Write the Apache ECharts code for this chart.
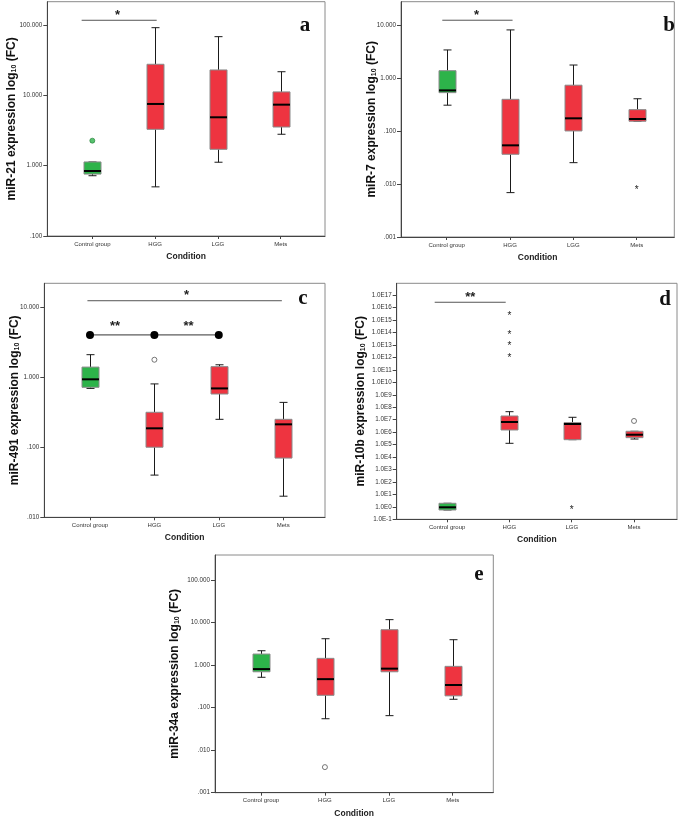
<!DOCTYPE html>
<html><head><meta charset="utf-8">
<script src="https://cdn.jsdelivr.net/npm/echarts@6/dist/echarts.min.js"></script>
<style>html,body{margin:0;padding:0;background:#fff}#c{width:685px;height:817px}</style>
</head><body><div id="c"></div>
<script>
// ---------------- DATA ----------------
const categories = ['Control group', 'HGG', 'LGG', 'Mets'];

// Box statistics per category: [min, Q1, median, Q3, max]
const miR21Boxes = [[0.72, 0.76, 0.84, 1.13, 1.13], [0.50, 3.29, 7.55, 27.7, 91.8], [1.12, 1.71, 4.88, 23.0, 68.4], [2.8, 3.55, 7.38, 11.2, 21.7]];
const miR21Dots = [[0, 2.27]];
const miR21Ticks = [0.1, 1, 10, 100];

const miR7Boxes = [[0.31, 0.535, 0.59, 1.39, 3.43], [0.0069, 0.0366, 0.054, 0.40, 8.2], [0.0254, 0.101, 0.175, 0.74, 1.78], [0.154, 0.154, 0.17, 0.255, 0.41]];
const miR7Stars = [[3, 0.0087]];
const miR7Ticks = [0.001, 0.01, 0.1, 1, 10];

const miR491Boxes = [[0.69, 0.716, 0.93, 1.39, 2.09], [0.040, 0.10, 0.186, 0.315, 0.80], [0.25, 0.574, 0.69, 1.41, 1.5], [0.020, 0.070, 0.212, 0.25, 0.436]];
const miR491Circles = [[1, 1.77]];
const miR491Ticks = [0.01, 0.1, 1, 10];

const miR10bBoxes = [[0.56, 0.56, 0.92, 1.93, 1.93], [1.27e5, 1.49e6, 6.5e6, 1.98e7, 4.4e7], [2.48e5, 2.48e5, 4.5e6, 5.75e6, 1.56e7], [2.8e5, 3.6e5, 6.2e5, 1.17e6, 1.17e6]];
const miR10bStars = [[1, 3.1e15], [1, 9.8e13], [1, 1.15e13], [1, 1.48e12], [2, 0.9]];
const miR10bCircles = [[3, 7.9e6]];
const miR10bTicks = [1e-1, 1e0, 1e1, 1e2, 1e3, 1e4, 1e5, 1e6, 1e7, 1e8, 1e9, 1e10, 1e11, 1e12, 1e13, 1e14, 1e15, 1e16, 1e17];

const miR34aBoxes = [[0.52, 0.70, 0.81, 1.83, 2.19], [0.055, 0.196, 0.47, 1.45, 4.2], [0.065, 0.70, 0.83, 6.84, 11.8], [0.158, 0.19, 0.342, 0.94, 3.98]];
const miR34aCircles = [[1, 0.004]];
const miR34aTicks = [0.001, 0.01, 0.1, 1, 10, 100];

// significance brackets: [[xStart, y], [xEnd, y]] and labels [x, y]
const sigALine = [[-0.17, 117], [1.025, 117]];
const sigALabels = [[0.4, 152]];
const sigALabelText = ['*'];
const sigBLine = [[-0.07, 12.5], [1.04, 12.5]];
const sigBLabels = [[0.47, 17.9]];
const sigBLabelText = ['*'];
const sigCLine = [[-0.04, 12.3], [2.98, 12.3]];
const sigCDotLine = [[0, 4], [1, 4], [2, 4]];
const sigCLabels = [[1.5, 16.2], [0.39, 5.85], [1.53, 5.85]];
const sigCLabelText = ['*', '**', '**'];
const sigDLine = [[-0.2, 2.7e16], [0.94, 2.7e16]];
const sigDLabels = [[0.37, 1.26e17]];
const sigDLabelText = ['**'];

// ---------------- STYLE / LAYOUT ----------------
const BOX_COLORS = ['#2db34a', '#ee3440', '#ee3440', '#ee3440'];
const BOX_W = 17, CAP_W = 8;
const SANS = 'Liberation Sans, Arial, sans-serif';

function fmtSpss(v) {
  const s = v.toFixed(3);
  return v < 1 ? s.replace(/^0/, '') : s;
}
function fmtSci(v) {
  return '1.0E' + Math.round(Math.log10(v));
}

const panels = [
  { title: 'miR-21', boxes: miR21Boxes, ticks: miR21Ticks, fmt: fmtSpss, yMin: 0.1, yMax: 215,
    grid: { left: 47.3, top: 1.7, width: 277.7, height: 234.3 }, xMin: -0.717, xMax: 3.705, nameGap: 30,
    letter: 'a', letterPos: [305, 36] },
  { title: 'miR-7', boxes: miR7Boxes, ticks: miR7Ticks, fmt: fmtSpss, yMin: 0.001, yMax: 28,
    grid: { left: 401, top: 1.7, width: 273.3, height: 235.3 }, xMin: -0.722, xMax: 3.594, nameGap: 23,
    letter: 'b', letterPos: [669, 36] },
  { title: 'miR-491', boxes: miR491Boxes, ticks: miR491Ticks, fmt: fmtSpss, yMin: 0.01, yMax: 21.8,
    grid: { left: 44.3, top: 283.3, width: 280.7, height: 234 }, xMin: -0.71, xMax: 3.65, nameGap: 24,
    letter: 'c', letterPos: [303, 309] },
  { title: 'miR-10b', boxes: miR10bBoxes, ticks: miR10bTicks, fmt: fmtSci, yMin: 0.1, yMax: 9e17,
    grid: { left: 396.7, top: 283.3, width: 280.3, height: 236 }, xMin: -0.81, xMax: 3.69, nameGap: 30,
    letter: 'd', letterPos: [665, 310] },
  { title: 'miR-34a', boxes: miR34aBoxes, ticks: miR34aTicks, fmt: fmtSpss, yMin: 0.001, yMax: 392,
    grid: { left: 215, top: 555, width: 278.3, height: 237.7 }, xMin: -0.72, xMax: 3.635, nameGap: 34,
    letter: 'e', letterPos: [479, 585] }
];

const grids = [], xAxes = [], yAxes = [], series = [], graphics = [];

function boxSeries(i, boxes) {
  return {
    type: 'custom', xAxisIndex: i, yAxisIndex: i, silent: true,
    data: boxes.map((b, k) => [k].concat(b)),
    encode: { x: 0, y: [1, 2, 3, 4, 5] },
    renderItem(params, api) {
      const x = api.value(0);
      const pMin = api.coord([x, api.value(1)]);
      const pQ1 = api.coord([x, api.value(2)]);
      const pMed = api.coord([x, api.value(3)]);
      const pQ3 = api.coord([x, api.value(4)]);
      const pMax = api.coord([x, api.value(5)]);
      const cx = Math.round(pMin[0]) + 0.5, hw = BOX_W / 2, cw = CAP_W / 2;
      const ws = { stroke: '#1a1a1a', lineWidth: 1 };
      return { type: 'group', children: [
        { type: 'line', shape: { x1: cx, y1: pMax[1], x2: cx, y2: pQ3[1] }, style: ws },
        { type: 'line', shape: { x1: cx, y1: pQ1[1], x2: cx, y2: pMin[1] }, style: ws },
        { type: 'line', shape: { x1: cx - cw, y1: pMax[1], x2: cx + cw, y2: pMax[1] }, style: ws },
        { type: 'line', shape: { x1: cx - cw, y1: pMin[1], x2: cx + cw, y2: pMin[1] }, style: ws },
        { type: 'rect', shape: { x: cx - hw, y: pQ3[1], width: 2 * hw, height: pQ1[1] - pQ3[1] },
          style: { fill: BOX_COLORS[x], stroke: '#8a8a8a', lineWidth: 1 } },
        { type: 'line', shape: { x1: cx - hw, y1: pMed[1], x2: cx + hw, y2: pMed[1] }, style: { stroke: '#000', lineWidth: 2 } }
      ] };
    }
  };
}

function textSeries(i, points, texts, font, dy) {
  return {
    type: 'custom', xAxisIndex: i, yAxisIndex: i, silent: true,
    data: points, encode: { x: 0, y: 1 },
    renderItem(params, api) {
      const p = api.coord([api.value(0), api.value(1)]);
      return { type: 'text', style: { text: texts[params.dataIndex], x: p[0], y: p[1] + dy,
        align: 'center', verticalAlign: 'middle', font: font, fill: '#222' } };
    }
  };
}

function lineSeries(i, pts, opts) {
  return Object.assign({
    type: 'line', xAxisIndex: i, yAxisIndex: i, data: pts, symbol: 'none', silent: true,
    lineStyle: { color: '#555', width: 1 }
  }, opts || {});
}

panels.forEach((p, i) => {
  grids.push(Object.assign({ show: true, borderColor: '#8a8a8a', borderWidth: 1, containLabel: false, outerBoundsMode: 'none' }, p.grid));
  xAxes.push({
    type: 'value', gridIndex: i, min: p.xMin, max: p.xMax,
    name: 'Condition', nameLocation: 'middle', nameGap: 16, nameMoveOverlap: false,
    nameTextStyle: { fontFamily: SANS, fontWeight: 'bold', fontSize: 8.5, color: '#222' },
    splitLine: { show: false },
    axisLine: { onZero: false, lineStyle: { color: '#444', width: 1 } },
    axisTick: { customValues: [0, 1, 2, 3], length: 3, lineStyle: { color: '#444' } },
    axisLabel: { customValues: [0, 1, 2, 3], formatter: v => categories[Math.round(v)],
      fontFamily: SANS, fontSize: 6, color: '#333', margin: 5 }
  });
  yAxes.push({
    type: 'log', logBase: 10, gridIndex: i, min: p.yMin, max: p.yMax,
    name: p.title + ' expression log{s|10} (FC)', nameLocation: 'middle', nameRotate: 90, nameGap: p.nameGap,
    nameMoveOverlap: false,
    nameTextStyle: { fontFamily: SANS, fontWeight: 'bold', fontSize: 12, color: '#111',
      rich: { s: { fontFamily: SANS, fontWeight: 'bold', fontSize: 7, color: '#111', verticalAlign: 'bottom', lineHeight: 10 } } },
    splitLine: { show: false },
    axisLine: { onZero: false, lineStyle: { color: '#444', width: 1 } },
    axisTick: { customValues: p.ticks, length: 4, lineStyle: { color: '#444' } },
    axisLabel: { customValues: p.ticks, formatter: v => p.fmt(v), fontFamily: SANS, fontSize: 6.3, color: '#333', margin: 5 }
  });
  series.push(boxSeries(i, p.boxes));
  graphics.push({ type: 'text', x: p.letterPos[0], y: p.letterPos[1],
    style: { text: p.letter, font: 'bold 21px "Liberation Serif", "Times New Roman", serif', fill: '#111', align: 'center', verticalAlign: 'bottom' } });
});

const STAR_FONT = 'bold 13px ' + SANS;
// Panel a
series.push(lineSeries(0, sigALine));
series.push(textSeries(0, sigALabels, sigALabelText, STAR_FONT, 3));
series.push({ type: 'scatter', xAxisIndex: 0, yAxisIndex: 0, data: miR21Dots, symbol: 'circle', symbolSize: 5, silent: true,
  itemStyle: { color: '#2db34a', borderColor: '#1e7d34', borderWidth: 0.8 } });
// Panel b
series.push(lineSeries(1, sigBLine));
series.push(textSeries(1, sigBLabels, sigBLabelText, STAR_FONT, 3));
series.push(textSeries(1, miR7Stars, miR7Stars.map(() => '*'), '10px ' + SANS, 2.5));
// Panel c
series.push(lineSeries(2, sigCLine));
series.push(lineSeries(2, sigCDotLine, { symbol: 'circle', symbolSize: 8, showSymbol: true,
  itemStyle: { color: '#000' }, lineStyle: { color: '#333', width: 1 } }));
series.push(textSeries(2, sigCLabels, sigCLabelText, STAR_FONT, 3));
series.push({ type: 'scatter', xAxisIndex: 2, yAxisIndex: 2, data: miR491Circles, symbol: 'circle', symbolSize: 5, silent: true,
  itemStyle: { color: '#fff', borderColor: '#555', borderWidth: 1 } });
// Panel d
series.push(lineSeries(3, sigDLine));
series.push(textSeries(3, sigDLabels, sigDLabelText, STAR_FONT, 3));
series.push(textSeries(3, miR10bStars, miR10bStars.map(() => '*'), '10px ' + SANS, 2.5));
series.push({ type: 'scatter', xAxisIndex: 3, yAxisIndex: 3, data: miR10bCircles, symbol: 'circle', symbolSize: 5, silent: true,
  itemStyle: { color: '#fff', borderColor: '#555', borderWidth: 1 } });
// Panel e
series.push({ type: 'scatter', xAxisIndex: 4, yAxisIndex: 4, data: miR34aCircles, symbol: 'circle', symbolSize: 5, silent: true,
  itemStyle: { color: '#fff', borderColor: '#555', borderWidth: 1 } });

const chart = echarts.init(document.getElementById('c'), null, { renderer: 'canvas' });
chart.setOption({
  animation: false,
  backgroundColor: '#fff',
  grid: grids, xAxis: xAxes, yAxis: yAxes, series: series, graphic: graphics
});
</script></body></html>
